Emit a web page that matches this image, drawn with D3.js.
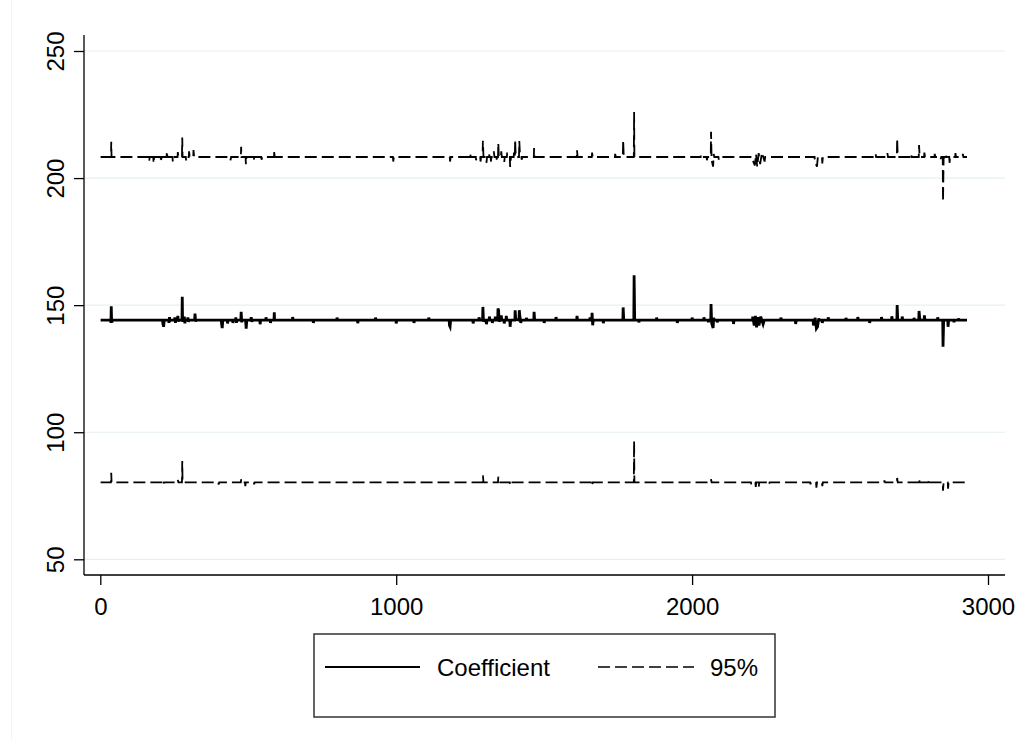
<!DOCTYPE html>
<html>
<head>
<meta charset="utf-8">
<script src="https://cdn.jsdelivr.net/npm/d3@7"></script>
<style>
  body { margin: 0; background: #ffffff; }
  text { font-family: "Liberation Sans", Arial, sans-serif; fill: #000; }
</style>
</head>
<body>
<div id="chart"></div>
<script>
var coefficient = [
  [1,144.1],[35,144.1],[36,143],[37,149.6],[38,144.8],[39,143.2],[41,144.1],[210,144.1],[212,142.5],[214,141.5],[216,144.1],
  [231,144.1],[232,143],[234,145.3],[236,143.6],[237,144.1],[251,144.1],[252,145.2],[254,143],[255,144.1],[261,144.1],
  [262,145.8],[264,143.5],[265,144.1],[276,144.1],[277,153.3],[278,143.5],[280,144.1],[283,144.1],[284,145.5],[286,142.8],
  [287,144.1],[295,144.1],[296,145.2],[298,143.4],[299,144.1],[319,144.1],[320,146.7],[322,143.5],[323,144.1],[409,144.1],
  [410,142.5],[412,141],[414,144.1],[429,144.1],[430,142.8],[432,144.1],[447,144.1],[448,143],[450,144.1],[457,144.1],
  [458,145.2],[460,143],[461,144.1],[475,144.1],[476,147.4],[478,143.2],[479,144.1],[491,144.1],[493,140.8],[495,144.1],
  [509,144.1],[510,145.3],[512,143.4],[513,144.1],[539,144.1],[540,142.5],[542,144.1],[559,144.1],[560,145.2],[562,144.1],
  [574,144.1],[575,143],[577,144.1],[587,144.1],[588,147.2],[589,143.8],[590,144.1],[649,144.1],[650,145.3],[652,144.1],
  [719,144.1],[720,143],[722,144.1],[799,144.1],[800,145.1],[802,144.1],[869,144.1],[870,142.9],[872,144.1],[929,144.1],
  [930,145.1],[932,144.1],[999,144.1],[1000,142.8],[1002,144.1],[1059,144.1],[1060,143],[1062,144.1],[1109,144.1],
  [1110,145.1],[1112,144.1],
  [1179,144.1],[1180,142],[1182,141.5],[1184,144.1],[1259,144.1],[1260,142.8],[1262,144.1],[1279,144.1],[1280,145.2],
  [1282,144.1],[1292,144.1],[1293,149.3],[1295,143.5],[1297,144.1],[1304,144.1],[1305,142.5],[1307,144.1],[1314,144.1],
  [1315,145.5],[1317,144.1],[1324,144.1],[1325,143],[1327,144.1],[1334,144.1],[1335,145.5],[1337,144.1],[1343,144.1],
  [1344,148.7],[1346,148],[1348,143.5],[1350,144.1],[1354,144.1],[1355,146],[1357,144.1],[1364,144.1],[1365,142.8],
  [1367,144.1],[1371,144.1],[1372,145.8],[1374,144.1],[1384,144.1],[1385,141.5],[1387,144.1],[1401,144.1],[1402,148],
  [1404,144.5],[1415,144.1],[1416,148],[1418,145.5],[1420,144.1],[1421,143],[1423,144.1],[1439,144.1],[1440,145],
  [1442,144.1],[1465,144.1],[1466,147.4],[1468,143.8],[1469,144.1],[1499,144.1],[1500,143],[1502,144.1],[1539,144.1],
  [1540,145.3],[1542,144.1],[1610,144.1],[1611,145.8],[1613,144.1],[1654,144.1],
  [1655,145.2],[1657,144.1],[1661,144.1],[1662,147],[1664,142.1],[1666,144.1],[1699,144.1],[1700,142.9],[1702,144.1],
  [1766,144.1],[1767,149.1],[1769,144.1],
  [1803,144.1],[1804,161.8],[1806,144.1],[1819,144.1],[1820,143.2],[1822,144.1],[1879,144.1],[1880,145.1],[1882,144.1],
  [1949,144.1],[1950,143],[1952,144.1],[1999,144.1],[2000,145.1],[2002,144.1],[2039,144.1],[2040,145.2],[2042,144.1],
  [2054,144.1],[2055,143.3],[2057,144.1],[2063,144.1],[2064,150.4],[2066,143],[2071,141],[2073,145],[2075,144.1],
  [2084,144.1],[2085,143.2],[2087,144.1],[2139,144.1],[2140,142.6],[2142,144.1],[2204,144.1],[2205,145.5],[2210,142],
  [2214,145.8],[2218,141.3],[2222,145.3],
  [2226,142],[2232,145.5],[2240,142.5],[2244,144.1],[2299,144.1],[2300,145.1],[2302,144.1],[2349,144.1],[2350,142.6],
  [2352,144.1],[2409,144.1],[2410,142],[2416,145],[2420,140.8],[2424,141.5],
  [2428,144.8],[2430,144.1],[2439,144.1],[2440,143],[2442,144.1],[2459,144.1],[2460,145.2],[2462,144.1],[2519,144.1],
  [2520,145],[2522,144.1],[2559,144.1],[2560,145.3],[2562,144.1],[2599,144.1],[2600,143],[2602,144.1],
  [2639,144.1],[2640,145.3],[2642,144.1],[2674,144.1],[2675,145.6],[2677,144.1],[2692,144.1],
  [2693,150],[2695,144.1],[2709,144.1],[2710,145.5],[2712,144.1],[2749,144.1],[2750,145],[2752,144.1],[2766,144.1],
  [2767,147.7],[2769,145],[2771,144.1],[2784,144.1],[2785,146],[2787,144.1],[2829,144.1],[2830,145.2],[2832,144.1],
  [2847,144.1],[2848,133.6],[2850,143.6],[2852,144.1],[2864,144.1],[2865,141.5],[2867,144.1],[2884,144.1],[2885,143.3],
  [2887,144.1],[2899,144.1],[2900,144.8],[2902,144.1],[2929,144.1]
];

var upper95 = [
  [1,208.3],[35,208.3],[36,208],[37,214.3],[38,208.3],[164,208.3],[165,206.5],[167,208.3],[179,208.3],[180,205.8],
  [182,208.3],[204,208.3],[205,206.2],[207,208.3],[224,208.3],[225,210.5],[227,208.3],[244,208.3],[245,206.5],[247,208.3],
  [261,208.3],[262,210.2],[264,208.3],[276,208.3],[277,216],[278,208.3],[289,208.3],[290,206.8],[292,208.3],[299,208.3],
  [300,210.5],[302,208.3],[314,208.3],[315,211],[317,208.3],[439,208.3],[440,207],[442,208.3],[475,208.3],[476,212.3],
  [477,208.3],[491,208.3],[492,205.5],[494,208.3],[519,208.3],[520,206.8],[522,208.3],[544,208.3],[545,207.2],[547,208.3],
  [587,208.3],[588,211],[589,208.3],[989,208.3],[990,206.5],[992,208.3],[1181,208.3],[1182,206.5],[1184,208.3],
  [1249,208.3],[1250,209.8],[1252,208.3],[1269,208.3],[1270,207],[1272,208.3],[1284,208.3],[1285,206.5],[1287,208.3],
  [1292,208.3],[1293,214.7],[1295,208.3],[1304,208.3],[1305,206],[1307,208.3],[1314,208.3],[1315,210],[1317,208.3],
  [1319,208.3],[1320,206.5],[1322,208.3],[1329,208.3],[1330,210.5],[1332,208.3],[1339,208.3],[1340,206.5],[1342,208.3],
  [1344,208.3],[1345,213.8],[1347,208.3],[1354,208.3],[1355,210.5],[1357,208.3],[1364,208.3],[1365,206.2],[1367,208.3],
  [1374,208.3],[1375,210],[1377,208.3],[1384,208.3],[1385,204.4],[1388,208.3],[1397,208.3],[1398,210],[1400,208.3],
  [1401,208.3],[1402,215],[1404,208.3],[1415,208.3],[1416,214.6],[1418,210],[1420,208.3],[1423,208.3],[1424,207.2],
  [1426,208.3],[1465,208.3],[1466,211.8],[1467,208.3],[1610,208.3],[1611,211],[1613,208.3],[1661,208.3],[1662,210],
  [1664,208.3],[1739,208.3],[1740,209.5],[1742,208.3],[1766,208.3],[1767,215],[1769,208.3],[1803,208.3],[1804,226],
  [1805,208.3],[2029,208.3],[2030,209.3],[2032,208.3],[2049,208.3],[2050,207],[2052,208.3],[2063,208.3],[2064,218.2],
  [2066,207],[2071,204.5],[2073,209.5],[2075,208.3],[2089,208.3],[2090,207.3],[2092,208.3],[2204,208.3],[2205,207],
  [2212,205],[2216,209.5],[2220,204.5],[2225,209.8],[2230,205.5],[2236,210],[2245,206.5],[2247,208.3],[2414,208.3],
  [2415,206.5],[2422,204.5],[2425,208.3],[2439,208.3],[2440,205.8],[2442,208.3],[2619,208.3],[2620,209.5],[2622,208.3],
  [2659,208.3],[2660,209.8],[2662,208.3],[2692,208.3],[2693,215.6],[2695,208.3],[2739,208.3],[2740,209.5],[2742,208.3],
  [2766,208.3],[2767,213],[2769,208.3],[2784,208.3],[2785,210],[2787,208.3],[2819,208.3],[2820,209.5],[2822,208.3],
  [2839,208.3],[2840,207.5],[2842,208.3],[2847,208.3],[2848,190.7],[2850,207.5],[2852,208.3],[2859,208.3],[2860,209.5],
  [2862,208.3],[2869,208.3],[2870,206],[2872,208.3],[2889,208.3],[2890,209.8],[2892,208.3],[2914,208.3],[2915,209.5],
  [2917,208.3],[2929,208.3]
];

var lower95 = [
  [1,80.3],[36,80.3],[37,84],[38,80.3],[212,80.3],[213,79.2],[215,80.3],[261,80.3],[262,81.2],[264,80.3],[276,80.3],
  [277,88.7],[278,80.3],[399,80.3],[400,79.4],[402,80.3],[475,80.3],[476,81.5],[478,80.3],[489,80.3],[490,78.8],[492,80.3],
  [519,80.3],[520,79.5],[522,80.3],[1292,80.3],[1293,83],[1295,80.3],[1344,80.3],[1345,82.5],[1347,80.3],[1384,80.3],
  [1385,79.2],[1387,80.3],[1661,80.3],[1662,79],[1664,80.3],[1803,80.3],[1804,96.6],[1805,80.3],[2063,80.3],[2064,81.5],
  [2066,80.3],[2199,80.3],[2200,79.5],[2202,80.3],[2214,80.3],[2215,78.5],[2217,80.3],[2224,80.3],[2225,78.4],[2227,80.3],
  [2259,80.3],[2260,79.4],[2262,80.3],[2399,80.3],[2400,79.5],[2402,80.3],[2419,80.3],[2420,78.2],[2422,80.3],[2439,80.3],
  [2440,78.8],[2442,80.3],[2649,80.3],[2650,81],[2652,80.3],[2692,80.3],[2693,82],[2695,80.3],[2766,80.3],[2767,81.8],
  [2769,80.3],[2799,80.3],[2800,81.5],[2802,80.3],[2847,80.3],[2848,77],[2850,80.3],[2864,80.3],[2865,77.8],[2867,80.3],
  [2929,80.3]
];

var xTicks = [0, 1000, 2000, 3000];
var yTicks = [50, 100, 150, 200, 250];
var legendLabels = ["Coefficient", "95%"];

var width = 1028, height = 740;

var svg = d3.select("#chart").append("svg")
  .attr("width", width)
  .attr("height", height);

// scales
var x = d3.scaleLinear().domain([0, 3000]).range([100.3, 988]);
var y = d3.scaleLinear().domain([50, 250]).range([559.3, 51]);

var plotLeft = 84, plotRight = 1005, plotTop = 35, plotBottom = 575;

// faint outer border on the left
svg.append("line")
  .attr("x1", 11.5).attr("x2", 11.5).attr("y1", 0).attr("y2", height)
  .attr("stroke", "#f2f4f5").attr("stroke-width", 1);

// grid lines
svg.append("g").selectAll("line")
  .data(yTicks)
  .enter().append("line")
  .attr("x1", plotLeft).attr("x2", plotRight)
  .attr("y1", function (d) { return y(d); })
  .attr("y2", function (d) { return y(d); })
  .attr("stroke", "#e6eff2")
  .attr("stroke-width", 1.2);

// y axis
var yAxis = d3.axisLeft(y).tickValues(yTicks).tickSize(10).tickFormat(d3.format("d"));
var gy = svg.append("g")
  .attr("transform", "translate(" + plotLeft + ",0)")
  .call(yAxis);
gy.select(".domain").remove();
gy.selectAll(".tick line").attr("stroke", "#000").attr("stroke-width", 1.3);
gy.selectAll(".tick text")
  .attr("x", null).attr("dy", null)
  .attr("text-anchor", "middle")
  .attr("transform", "translate(-20,0) rotate(-90)")
  .attr("y", 0)
  .style("font-size", "24px")
  .style("font-family", "'Liberation Sans', Arial, sans-serif");

// x axis
var xAxis = d3.axisBottom(x).tickValues(xTicks).tickSize(10).tickFormat(d3.format("d"));
var gx = svg.append("g")
  .attr("transform", "translate(0," + plotBottom + ")")
  .call(xAxis);
gx.select(".domain").remove();
gx.selectAll(".tick line").attr("stroke", "#000").attr("stroke-width", 1.3);
gx.selectAll(".tick text")
  .attr("y", 40).attr("dy", null)
  .style("font-size", "24px")
  .style("font-family", "'Liberation Sans', Arial, sans-serif");

// axis lines
svg.append("line")
  .attr("x1", plotLeft).attr("x2", plotLeft).attr("y1", plotTop).attr("y2", plotBottom)
  .attr("stroke", "#000").attr("stroke-width", 1.3);
svg.append("line")
  .attr("x1", plotLeft).attr("x2", plotRight).attr("y1", plotBottom).attr("y2", plotBottom)
  .attr("stroke", "#000").attr("stroke-width", 1.3);

// lines
var line = d3.line()
  .x(function (d) { return x(d[0]); })
  .y(function (d) { return y(d[1]); });

svg.append("path")
  .datum(upper95)
  .attr("d", line)
  .attr("fill", "none")
  .attr("stroke", "#000")
  .attr("stroke-width", 1.8)
  .attr("stroke-dasharray", "12,5");

svg.append("path")
  .datum(lower95)
  .attr("d", line)
  .attr("fill", "none")
  .attr("stroke", "#000")
  .attr("stroke-width", 1.8)
  .attr("stroke-dasharray", "12,5");

svg.append("path")
  .datum(coefficient)
  .attr("d", line)
  .attr("fill", "none")
  .attr("stroke", "#000")
  .attr("stroke-width", 2.8);

// legend
var legend = svg.append("g");
legend.append("rect")
  .attr("x", 314).attr("y", 634)
  .attr("width", 461).attr("height", 83)
  .attr("fill", "#fff")
  .attr("stroke", "#333")
  .attr("stroke-width", 1.5);

legend.append("line")
  .attr("x1", 325).attr("x2", 420).attr("y1", 667).attr("y2", 667)
  .attr("stroke", "#000").attr("stroke-width", 2);
legend.append("text")
  .attr("x", 437).attr("y", 676)
  .style("font-size", "24px")
  .text(legendLabels[0]);

legend.append("line")
  .attr("x1", 598).attr("x2", 694).attr("y1", 667).attr("y2", 667)
  .attr("stroke", "#000").attr("stroke-width", 1.6)
  .attr("stroke-dasharray", "12,5");
legend.append("text")
  .attr("x", 710).attr("y", 676)
  .style("font-size", "24px")
  .text(legendLabels[1]);
</script>
</body>
</html>
